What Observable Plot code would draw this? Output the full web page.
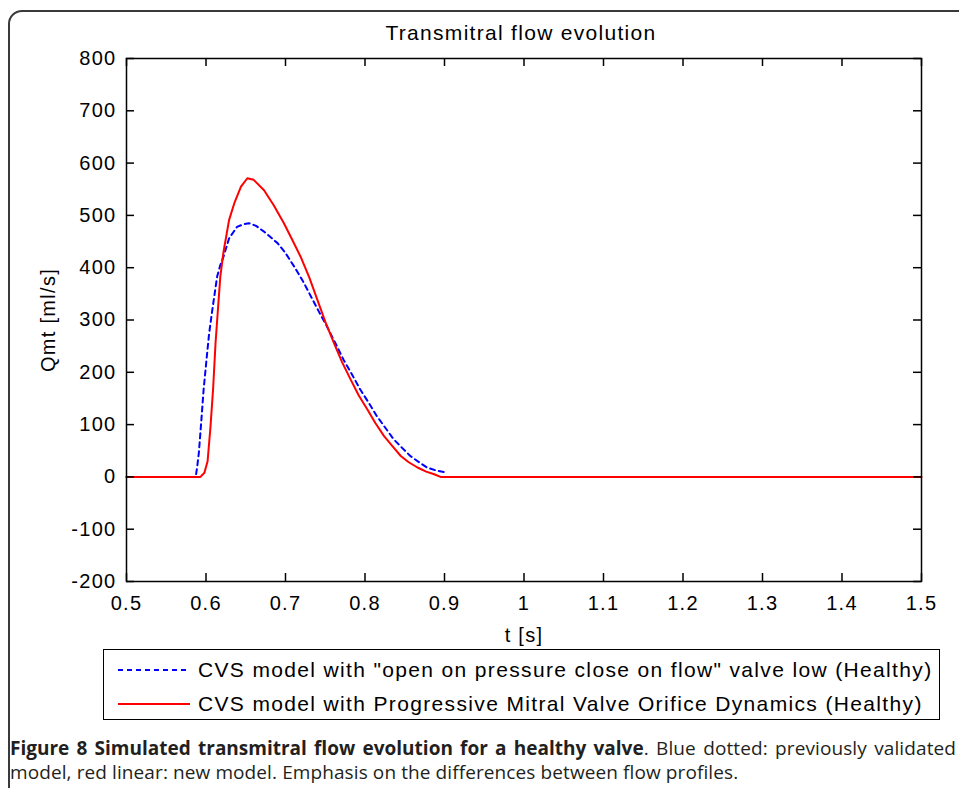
<!DOCTYPE html>
<html><head><meta charset="utf-8">
<script src="https://cdn.jsdelivr.net/npm/d3@7"></script>
<script src="https://cdn.jsdelivr.net/npm/@observablehq/plot@0.6"></script>
<style>
html,body{margin:0;padding:0;background:#fff;}
#wrap{position:relative;width:959px;height:788px;overflow:hidden;background:#fff;}
#border{position:absolute;left:8px;top:10px;width:1000px;height:830px;border:2px solid #3a3a3a;border-radius:14px;box-sizing:border-box;}
#chart{position:absolute;left:0;top:0;}
#title{position:absolute;left:0;width:1042px;top:21px;text-align:center;font:21px "Liberation Sans",Arial,sans-serif;letter-spacing:1.3px;color:#000;}
#legend{position:absolute;left:103px;top:649px;width:837px;height:71px;border:1.5px solid #000;box-sizing:border-box;background:#fff;}
.row{position:absolute;left:0;height:30px;display:flex;align-items:center;font:21px "Liberation Sans",Arial,sans-serif;letter-spacing:1.35px;color:#000;white-space:nowrap;}
.row svg{margin-left:14px;margin-right:8px;}
#caption{position:absolute;left:10px;top:736px;width:946px;font:19px "Open Sans",sans-serif;line-height:24px;color:#231f20;text-align:justify;letter-spacing:0.1px;}
#caption b{font-weight:700;letter-spacing:0;}
</style></head>
<body><div id="wrap">
<div id="border"></div>
<div id="chart"></div>
<div id="title"></div>
<div id="legend"></div>
<div id="caption"></div>
</div>
<script>
// Axis ticks
const xTicks = [0.5, 0.6, 0.7, 0.8, 0.9, 1, 1.1, 1.2, 1.3, 1.4, 1.5];
const yTicks = [-200, -100, 0, 100, 200, 300, 400, 500, 600, 700, 800];

// Series 1: CVS model with "open on pressure close on flow" valve law (blue dashed)
const blueT = [0.5, 0.587, 0.589, 0.591, 0.594, 0.597, 0.601, 0.604, 0.608, 0.614, 0.618, 0.622, 0.629, 0.639, 0.647, 0.654, 0.663, 0.673, 0.690, 0.700, 0.711, 0.722, 0.732, 0.742, 0.752, 0.763, 0.773, 0.784, 0.794, 0.805, 0.815, 0.826, 0.836, 0.847, 0.857, 0.868, 0.878, 0.890, 0.903];
const blueQ = [0, 0, 20, 46, 105, 167, 230, 275, 320, 383, 405, 421, 456, 478, 483, 485, 480, 469, 447, 428, 402, 374, 345, 316, 288, 255, 224, 195, 167, 141, 116, 93, 72, 55, 40, 28, 18, 12, 8];

// Series 2: CVS model with Progressive Mitral Valve Orifice Dynamics (red solid)
const redT = [0.5, 0.593, 0.598, 0.602, 0.6057, 0.609, 0.612, 0.615, 0.618, 0.622, 0.629, 0.636, 0.644, 0.652, 0.660, 0.673, 0.685, 0.698, 0.708, 0.719, 0.730, 0.740, 0.750, 0.761, 0.771, 0.782, 0.792, 0.803, 0.813, 0.824, 0.835, 0.845, 0.855, 0.866, 0.877, 0.887, 0.895, 1.5];
const redQ = [0, 0, 8, 30, 97, 170, 256, 320, 383, 430, 491, 525, 555, 571, 568, 548, 520, 485, 455, 421, 381, 339, 297, 256, 220, 186, 156, 129, 103, 78, 58, 40, 28, 18, 10, 5, 0, 0];

const seriesNames = [
  'CVS model with "open on pressure close on flow" valve low (Healthy)',
  'CVS model with Progressive Mitral Valve Orifice Dynamics (Healthy)'
];
const seriesColors = ["#0000ff", "#ff0000"];
const titleText = "Transmitral flow evolution";
const xLabel = "t [s]";
const yLabel = "Qmt [ml/s]";
const xDomain = [0.5, 1.5];
const yDomain = [-200, 800];

const blue = blueT.map((t, i) => ({t, q: blueQ[i]}));
const red = redT.map((t, i) => ({t, q: redQ[i]}));

const W = 959, H = 650, mT = 58, mB = 69, mL = 126, mR = 38;
const plotW = W - mL - mR, plotH = H - mT - mB, tickPx = 8;
// inward tick length expressed in data units, so the ticks go through the scales
const tx = tickPx * (xDomain[1] - xDomain[0]) / plotW;
const ty = tickPx * (yDomain[1] - yDomain[0]) / plotH;
const tickStyle = {stroke: "#000", strokeWidth: 1.5};

const chart = Plot.plot({
  width: W, height: H,
  marginTop: mT, marginBottom: mB, marginLeft: mL, marginRight: mR,
  style: {fontFamily: '"Liberation Sans", Arial, sans-serif', fontSize: "20px", color: "#000", background: "transparent", overflow: "visible", letterSpacing: "1.3px"},
  x: {domain: xDomain},
  y: {domain: yDomain},
  marks: [
    Plot.line(blue, {x: "t", y: "q", stroke: seriesColors[0], strokeWidth: 2, strokeDasharray: "5,4"}),
    Plot.line(red, {x: "t", y: "q", stroke: seriesColors[1], strokeWidth: 2}),
    // inward ticks on all four sides (MATLAB box style)
    Plot.ruleX(xTicks, {x: d => d, y1: yDomain[0], y2: yDomain[0] + ty, ...tickStyle}),
    Plot.ruleX(xTicks, {x: d => d, y1: yDomain[1] - ty, y2: yDomain[1], ...tickStyle}),
    Plot.ruleY(yTicks, {y: d => d, x1: xDomain[0], x2: xDomain[0] + tx, ...tickStyle}),
    Plot.ruleY(yTicks, {y: d => d, x1: xDomain[1] - tx, x2: xDomain[1], ...tickStyle}),
    Plot.frame({stroke: "#000", strokeWidth: 1.5}),
    Plot.axisX({anchor: "bottom", ticks: xTicks, tickSize: 0, tickPadding: 14, tickFormat: d => String(d),
      label: xLabel, labelAnchor: "center", labelArrow: "none", labelOffset: 60}),
    Plot.axisY({anchor: "left", ticks: yTicks, tickSize: 0, tickPadding: 10, tickFormat: d => String(d),
      label: yLabel, labelAnchor: "center", labelArrow: "none", labelOffset: 86})
  ]
});
document.getElementById("chart").appendChild(chart);
document.getElementById("title").textContent = titleText;

const legend = document.getElementById("legend");
seriesNames.forEach((name, i) => {
  const row = document.createElement("div");
  row.className = "row";
  row.style.top = (i === 0 ? 5 : 39) + "px";
  const dash = i === 0 ? 'stroke-dasharray="5,4"' : "";
  row.innerHTML = `<svg width="72" height="6"><line x1="0" x2="72" y1="3" y2="3" stroke="${seriesColors[i]}" stroke-width="2" ${dash}/></svg><span></span>`;
  row.querySelector("span").textContent = name;
  legend.appendChild(row);
});

document.getElementById("caption").innerHTML =
  "<b>Figure 8 Simulated transmitral flow evolution for a healthy valve</b>. Blue dotted: previously validated model, red linear: new model. Emphasis on the differences between flow profiles.";
</script>
</body></html>
